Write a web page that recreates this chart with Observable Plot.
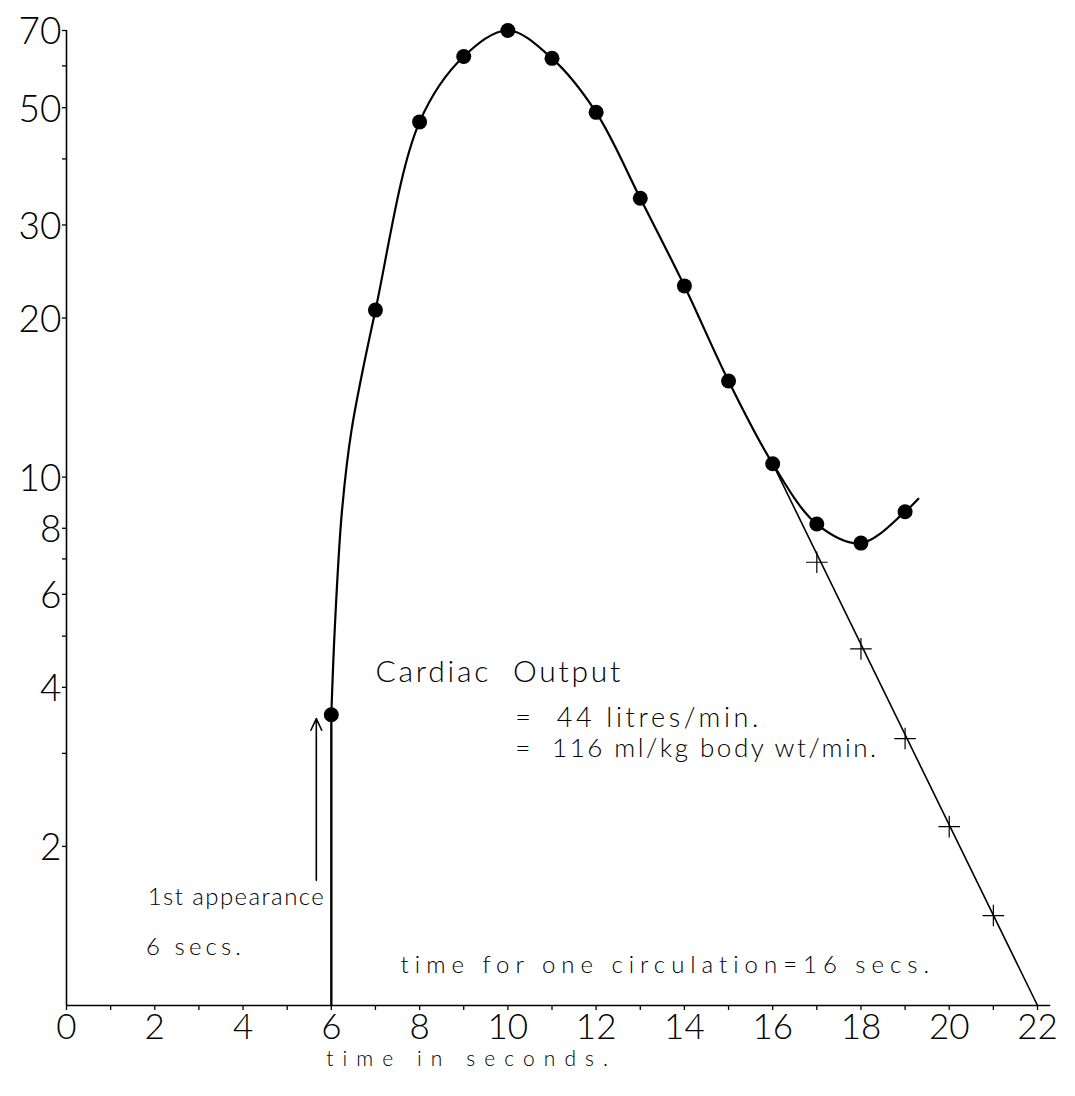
<!DOCTYPE html>
<html><head><meta charset="utf-8">
<script src="https://cdn.jsdelivr.net/npm/d3@7"></script>
<script src="https://cdn.jsdelivr.net/npm/@observablehq/plot@0.6"></script>
<style>
body{margin:0;background:#fff}
#chart svg{display:block}
</style>
</head><body><div id="chart"></div>
<script>
// Measured dye concentrations (filled dots)
const dotTimes = [6, 7, 8, 9, 10, 11, 12, 13, 14, 15, 16, 17, 18, 19];
const dotConc  = [3.55, 20.7, 47, 62.5, 70, 62, 49, 33.7, 23, 15.2, 10.6, 8.15, 7.5, 8.6];
// Drawn smooth curve
const curveTimes = [6, 6.08, 6.24, 6.46, 7, 8, 9, 10, 11, 12, 13, 14, 15, 16, 17, 18, 19, 19.3];
const curveConc  = [3.55, 5.2, 8.6, 12.3, 20.7, 47, 62.5, 70, 62, 49, 33.7, 23, 15.2, 10.6, 8.15, 7.5, 8.6, 9.1];
// Extrapolated exponential decay (crosses) and its straight line
const crossTimes = [17, 18, 19, 20, 21];
const crossConc  = [6.9, 4.73, 3.2, 2.18, 1.48];
const decayTimes = [16, 22];
const decayConc  = [10.6, 1];
// Axis ticks and labels
const xTicks  = [0,1,2,3,4,5,6,7,8,9,10,11,12,13,14,15,16,17,18,19,20,21,22];
const xLabels = [0,2,4,6,8,10,12,14,16,18,20,22];
const yTicks  = [2,3,4,5,6,7,8,10,20,30,40,50,60,70];
const yLabels = [2,4,6,8,10,20,30,50,70];
const xTitle  = "time in seconds.";
// Annotations
const noteText = ["1st appearance", "6 secs.", "Cardiac  Output", "=  44 litres/min.", "=  116 ml/kg body wt/min.", "time for one circulation=16 secs."];
const noteX    = [1.84, 1.80, 7.0, 10.17, 10.17, 7.57];
const noteY    = [1.60, 1.29, 4.27, 3.49, 3.06, 1.19];
const firstAppearance = 6;
const arrowX = 5.66, arrowFrom = 1.725, arrowTo = 3.49;

// Style (sizes / widths of the lettering)
const noteSize  = [24, 24, 30, 27, 26, 24];
const noteWidth = [176, 95, 245, 243, 362, 530];
const xTitleSize = 21, xTitleWidth = 282;

const dots = dotTimes.map((t, i) => ({t, c: dotConc[i]}));
const curve = curveTimes.map((t, i) => ({t, c: curveConc[i]}));
const crosses = crossTimes.map((t, i) => ({t, c: crossConc[i]}));
const decay = decayTimes.map((t, i) => ({t, c: decayConc[i]}));
const notes = noteText.map((s, i) => ({s, x: noteX[i], y: noteY[i], size: noteSize[i]}));

const font = "Lato, 'Open Sans', sans-serif";

const chart = Plot.plot({
  width: 1075,
  height: 1096,
  marginLeft: 66,
  marginRight: 38,
  marginTop: 30,
  marginBottom: 91,
  style: {fontFamily: font, fontWeight: 300, color: "#000", background: "#fff"},
  x: {domain: [0, 22]},
  y: {type: "log", domain: [1, 70]},
  marks: [
    Plot.ruleX([0], {y1: 1, y2: 70, stroke: "#000", strokeWidth: 1.6}),
    Plot.ruleY([1], {x1: 0, x2: 22.3, stroke: "#000", strokeWidth: 1.6}),
    Plot.axisX({ticks: xTicks, tickSize: 5, stroke: "#000", strokeWidth: 1.3, tickFormat: () => "", label: null}),
    Plot.axisY({ticks: yTicks, tickSize: 4, stroke: "#000", strokeWidth: 1.3, tickFormat: () => "", label: null}),
    Plot.text(xLabels, {x: d => d, y: () => 1, dy: 22, lineAnchor: "middle", text: d => String(d),
      fontSize: 35, fill: "#000", fontWeight: 300}),
    Plot.text(yLabels, {x: () => 0, y: d => d, dx: -5, dy: 2, textAnchor: "end", lineAnchor: "middle",
      text: d => String(d), fontSize: 37, fill: "#000", fontWeight: 300}),
    Plot.ruleX([firstAppearance], {y1: 1, y2: dotConc[0], stroke: "#000", strokeWidth: 2.4}),
    Plot.arrow([{x: arrowX, y1: arrowFrom, y2: arrowTo}], {x1: "x", x2: "x", y1: "y1", y2: "y2",
      stroke: "#000", strokeWidth: 1.6, headLength: 12, headAngle: 50}),
    Plot.line(decay, {x: "t", y: "c", stroke: "#000", strokeWidth: 1.6}),
    Plot.line(curve, {x: "t", y: "c", curve: "catmull-rom", stroke: "#000", strokeWidth: 2.2}),
    Plot.dot(dots, {x: "t", y: "c", r: 7.5, fill: "#000", stroke: "none"}),
    Plot.dot(crosses, {x: "t", y: "c", symbol: "plus", r: 7, stroke: "#000", strokeWidth: 1.2, fill: "none"}),
    Plot.text(notes, {x: "x", y: "y", text: "s", fontSize: "size", textAnchor: "start", lineAnchor: "middle",
      fill: "#000", fontWeight: 300}),
    Plot.text([xTitle], {frameAnchor: "bottom", x: () => 9.18, dy: 54, lineAnchor: "middle", fontSize: xTitleSize,
      fill: "#000", fontWeight: 300})
  ]
});

document.getElementById("chart").append(chart);

// widen the hand lettering to the reference widths (natural width measured on a canvas)
const ctx = document.createElement("canvas").getContext("2d");
const norm = s => s.replace(/\s+/g, " ").trim();
d3.select(chart).selectAll("text").each(function() {
  const s = norm(this.textContent);
  let str = null, size = 0, target = 0;
  const i = noteText.findIndex(t => norm(t) === s);
  if (i >= 0) { str = noteText[i]; size = noteSize[i]; target = noteWidth[i]; }
  else if (s === norm(xTitle)) { str = xTitle; size = xTitleSize; target = xTitleWidth; }
  if (str == null) return;
  this.textContent = str;
  this.style.whiteSpace = "pre";
  ctx.font = `300 ${size}px ${font}`;
  const w = ctx.measureText(str).width;
  this.style.letterSpacing = ((target - w) / (str.length - 1)).toFixed(2) + "px";
});
</script>
</body></html>
